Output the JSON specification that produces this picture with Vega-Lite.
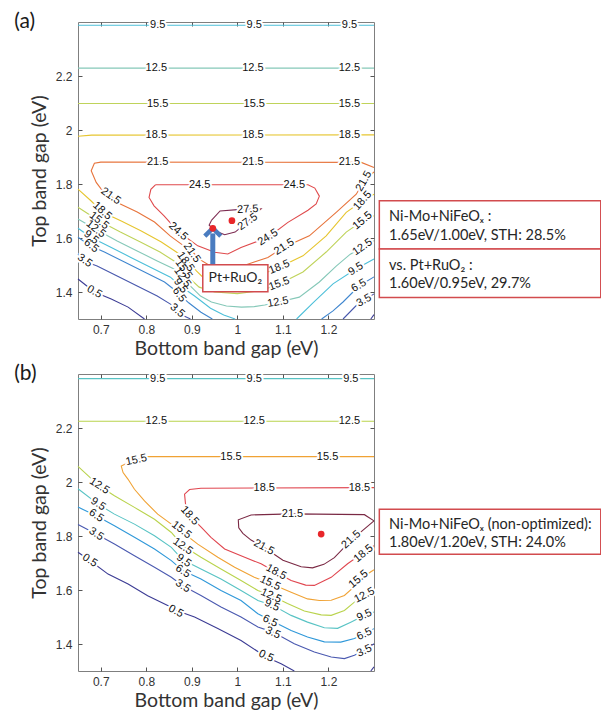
{
"$schema":"https://vega.github.io/schema/vega-lite/v6.json",
"padding":{"left":13,"top":10,"right":0,"bottom":0},
"autosize":{"type":"pad"},
"spacing":4,
"resolve":{"scale":{"x":"independent","y":"independent","color":"independent"}},
"config":{
 "view":{"stroke":"#7f7f7f","strokeWidth":1},
 "axis":{"domain":false,"grid":false,"ticks":true,"tickSize":-4,"tickColor":"#555555","labelFont":"Liberation Sans","labelFontSize":12,"labelColor":"#333333","titleFont":"Lato","titleFontSize":19.5,"titleFontWeight":"normal","titleColor":"#333333"},
 "axisX":{"labelPadding":9,"titlePadding":4},
 "axisY":{"labelPadding":10,"titlePadding":6}
},
"datasets":{
"la":[
{"l":"0.5","s":"0.5A","x":0.65,"y":1.448},{"l":"0.5","s":"0.5A","x":0.686,"y":1.4},{"l":"0.5","s":"0.5A","x":0.723,"y":1.374},{"l":"0.5","s":"0.5A","x":0.76,"y":1.344},{"l":"0.5","s":"0.5A","x":0.796,"y":1.3},
{"l":"0.5","s":"0.5B","x":1.293,"y":1.3},{"l":"0.5","s":"0.5B","x":1.3,"y":1.316},
{"l":"3.5","s":"3.5A","x":0.65,"y":1.54},{"l":"3.5","s":"3.5A","x":0.664,"y":1.514},{"l":"3.5","s":"3.5A","x":0.692,"y":1.496},{"l":"3.5","s":"3.5A","x":0.736,"y":1.459},{"l":"3.5","s":"3.5A","x":0.78,"y":1.422},{"l":"3.5","s":"3.5A","x":0.824,"y":1.385},{"l":"3.5","s":"3.5A","x":0.853,"y":1.355},{"l":"3.5","s":"3.5A","x":0.868,"y":1.33},{"l":"3.5","s":"3.5A","x":0.883,"y":1.311},{"l":"3.5","s":"3.5A","x":0.897,"y":1.3},
{"l":"3.5","s":"3.5B","x":1.232,"y":1.3},{"l":"3.5","s":"3.5B","x":1.26,"y":1.348},{"l":"3.5","s":"3.5B","x":1.278,"y":1.368},{"l":"3.5","s":"3.5B","x":1.3,"y":1.393},
{"l":"6.5","s":"6.5A","x":0.65,"y":1.603},{"l":"6.5","s":"6.5A","x":0.678,"y":1.57},{"l":"6.5","s":"6.5A","x":0.708,"y":1.548},{"l":"6.5","s":"6.5A","x":0.752,"y":1.511},{"l":"6.5","s":"6.5A","x":0.796,"y":1.474},{"l":"6.5","s":"6.5A","x":0.84,"y":1.437},{"l":"6.5","s":"6.5A","x":0.868,"y":1.4},{"l":"6.5","s":"6.5A","x":0.893,"y":1.36},{"l":"6.5","s":"6.5A","x":0.92,"y":1.325},{"l":"6.5","s":"6.5A","x":0.945,"y":1.3},
{"l":"6.5","s":"6.5B","x":1.185,"y":1.3},{"l":"6.5","s":"6.5B","x":1.21,"y":1.33},{"l":"6.5","s":"6.5B","x":1.232,"y":1.363},{"l":"6.5","s":"6.5B","x":1.267,"y":1.422},{"l":"6.5","s":"6.5B","x":1.3,"y":1.456},
{"l":"9.5","s":"9.5T","x":0.65,"y":2.388},{"l":"9.5","s":"9.5T","x":1.3,"y":2.388},
{"l":"9.5","s":"9.5A","x":0.65,"y":1.636},{"l":"9.5","s":"9.5A","x":0.678,"y":1.603},{"l":"9.5","s":"9.5A","x":0.722,"y":1.566},{"l":"9.5","s":"9.5A","x":0.765,"y":1.529},{"l":"9.5","s":"9.5A","x":0.809,"y":1.492},{"l":"9.5","s":"9.5A","x":0.853,"y":1.455},{"l":"9.5","s":"9.5A","x":0.875,"y":1.422},{"l":"9.5","s":"9.5A","x":0.906,"y":1.385},{"l":"9.5","s":"9.5A","x":0.941,"y":1.34},{"l":"9.5","s":"9.5A","x":0.97,"y":1.315},{"l":"9.5","s":"9.5A","x":0.995,"y":1.3},
{"l":"9.5","s":"9.5B","x":1.13,"y":1.3},{"l":"9.5","s":"9.5B","x":1.166,"y":1.36},{"l":"9.5","s":"9.5B","x":1.21,"y":1.43},{"l":"9.5","s":"9.5B","x":1.26,"y":1.485},{"l":"9.5","s":"9.5B","x":1.3,"y":1.522},
{"l":"12.5","s":"12.5T","x":0.65,"y":2.229},{"l":"12.5","s":"12.5T","x":1.3,"y":2.229},
{"l":"12.5","s":"12.5A","x":0.65,"y":1.67},{"l":"12.5","s":"12.5A","x":0.688,"y":1.633},{"l":"12.5","s":"12.5A","x":0.736,"y":1.589},{"l":"12.5","s":"12.5A","x":0.78,"y":1.552},{"l":"12.5","s":"12.5A","x":0.824,"y":1.515},{"l":"12.5","s":"12.5A","x":0.861,"y":1.485},{"l":"12.5","s":"12.5A","x":0.879,"y":1.455},{"l":"12.5","s":"12.5A","x":0.897,"y":1.422},{"l":"12.5","s":"12.5A","x":0.919,"y":1.385},{"l":"12.5","s":"12.5A","x":0.943,"y":1.363},{"l":"12.5","s":"12.5A","x":0.976,"y":1.348},{"l":"12.5","s":"12.5A","x":1.009,"y":1.344},{"l":"12.5","s":"12.5A","x":1.037,"y":1.346},{"l":"12.5","s":"12.5A","x":1.06,"y":1.352},{"l":"12.5","s":"12.5A","x":1.089,"y":1.362},{"l":"12.5","s":"12.5A","x":1.136,"y":1.381},{"l":"12.5","s":"12.5A","x":1.18,"y":1.437},{"l":"12.5","s":"12.5A","x":1.217,"y":1.496},{"l":"12.5","s":"12.5A","x":1.248,"y":1.54},{"l":"12.5","s":"12.5A","x":1.275,"y":1.566},{"l":"12.5","s":"12.5A","x":1.3,"y":1.59},
{"l":"15.5","s":"15.5T","x":0.65,"y":2.098},{"l":"15.5","s":"15.5T","x":1.3,"y":2.098},
{"l":"15.5","s":"15.5A","x":0.65,"y":1.714},{"l":"15.5","s":"15.5A","x":0.672,"y":1.69},{"l":"15.5","s":"15.5A","x":0.696,"y":1.664},{"l":"15.5","s":"15.5A","x":0.743,"y":1.622},{"l":"15.5","s":"15.5A","x":0.787,"y":1.585},{"l":"15.5","s":"15.5A","x":0.83,"y":1.548},{"l":"15.5","s":"15.5A","x":0.861,"y":1.515},{"l":"15.5","s":"15.5A","x":0.879,"y":1.485},{"l":"15.5","s":"15.5A","x":0.897,"y":1.448},{"l":"15.5","s":"15.5A","x":0.916,"y":1.418},{"l":"15.5","s":"15.5A","x":0.95,"y":1.4},{"l":"15.5","s":"15.5A","x":1.0,"y":1.394},{"l":"15.5","s":"15.5A","x":1.05,"y":1.405},{"l":"15.5","s":"15.5A","x":1.075,"y":1.418},{"l":"15.5","s":"15.5A","x":1.092,"y":1.43},{"l":"15.5","s":"15.5A","x":1.144,"y":1.474},{"l":"15.5","s":"15.5A","x":1.195,"y":1.548},{"l":"15.5","s":"15.5A","x":1.239,"y":1.622},{"l":"15.5","s":"15.5A","x":1.275,"y":1.664},{"l":"15.5","s":"15.5A","x":1.3,"y":1.682},
{"l":"18.5","s":"18.5T","x":0.65,"y":1.977},{"l":"18.5","s":"18.5T","x":0.68,"y":1.981},{"l":"18.5","s":"18.5T","x":1.3,"y":1.982},
{"l":"18.5","s":"18.5A","x":0.65,"y":1.781},{"l":"18.5","s":"18.5A","x":0.679,"y":1.737},{"l":"18.5","s":"18.5A","x":0.703,"y":1.696},{"l":"18.5","s":"18.5A","x":0.745,"y":1.663},{"l":"18.5","s":"18.5A","x":0.789,"y":1.626},{"l":"18.5","s":"18.5A","x":0.833,"y":1.585},{"l":"18.5","s":"18.5A","x":0.866,"y":1.548},{"l":"18.5","s":"18.5A","x":0.892,"y":1.515},{"l":"18.5","s":"18.5A","x":0.91,"y":1.478},{"l":"18.5","s":"18.5A","x":0.927,"y":1.45},{"l":"18.5","s":"18.5A","x":0.96,"y":1.436},{"l":"18.5","s":"18.5A","x":1.0,"y":1.436},{"l":"18.5","s":"18.5A","x":1.04,"y":1.45},{"l":"18.5","s":"18.5A","x":1.067,"y":1.474},{"l":"18.5","s":"18.5A","x":1.092,"y":1.492},{"l":"18.5","s":"18.5A","x":1.144,"y":1.534},{"l":"18.5","s":"18.5A","x":1.195,"y":1.608},{"l":"18.5","s":"18.5A","x":1.239,"y":1.695},{"l":"18.5","s":"18.5A","x":1.275,"y":1.738},{"l":"18.5","s":"18.5A","x":1.3,"y":1.762},
{"l":"21.5","s":"21.5A","x":1.3,"y":1.861},{"l":"21.5","s":"21.5A","x":1.272,"y":1.88},{"l":"21.5","s":"21.5A","x":0.7,"y":1.881},{"l":"21.5","s":"21.5A","x":0.686,"y":1.877},{"l":"21.5","s":"21.5A","x":0.679,"y":1.849},{"l":"21.5","s":"21.5A","x":0.69,"y":1.806},{"l":"21.5","s":"21.5A","x":0.701,"y":1.781},{"l":"21.5","s":"21.5A","x":0.72,"y":1.758},{"l":"21.5","s":"21.5A","x":0.743,"y":1.726},{"l":"21.5","s":"21.5A","x":0.78,"y":1.696},{"l":"21.5","s":"21.5A","x":0.818,"y":1.659},{"l":"21.5","s":"21.5A","x":0.853,"y":1.607},{"l":"21.5","s":"21.5A","x":0.883,"y":1.57},{"l":"21.5","s":"21.5A","x":0.902,"y":1.548},{"l":"21.5","s":"21.5A","x":0.918,"y":1.52},{"l":"21.5","s":"21.5A","x":0.94,"y":1.497},{"l":"21.5","s":"21.5A","x":0.97,"y":1.485},{"l":"21.5","s":"21.5A","x":1.0,"y":1.49},{"l":"21.5","s":"21.5A","x":1.037,"y":1.511},{"l":"21.5","s":"21.5A","x":1.067,"y":1.528},{"l":"21.5","s":"21.5A","x":1.103,"y":1.567},{"l":"21.5","s":"21.5A","x":1.158,"y":1.608},{"l":"21.5","s":"21.5A","x":1.217,"y":1.695},{"l":"21.5","s":"21.5A","x":1.261,"y":1.762},{"l":"21.5","s":"21.5A","x":1.278,"y":1.81},{"l":"21.5","s":"21.5A","x":1.3,"y":1.845},
{"l":"24.5","s":"24.5A","x":0.82,"y":1.797},{"l":"24.5","s":"24.5A","x":1.155,"y":1.797},{"l":"24.5","s":"24.5A","x":1.17,"y":1.785},{"l":"24.5","s":"24.5A","x":1.18,"y":1.755},{"l":"24.5","s":"24.5A","x":1.173,"y":1.726},{"l":"24.5","s":"24.5A","x":1.155,"y":1.703},{"l":"24.5","s":"24.5A","x":1.111,"y":1.658},{"l":"24.5","s":"24.5A","x":1.067,"y":1.602},{"l":"24.5","s":"24.5A","x":1.008,"y":1.565},{"l":"24.5","s":"24.5A","x":0.979,"y":1.541},{"l":"24.5","s":"24.5A","x":0.95,"y":1.547},{"l":"24.5","s":"24.5A","x":0.913,"y":1.571},{"l":"24.5","s":"24.5A","x":0.87,"y":1.624},{"l":"24.5","s":"24.5A","x":0.839,"y":1.682},{"l":"24.5","s":"24.5A","x":0.817,"y":1.719},{"l":"24.5","s":"24.5A","x":0.806,"y":1.75},{"l":"24.5","s":"24.5A","x":0.81,"y":1.78},{"l":"24.5","s":"24.5A","x":0.82,"y":1.797},
{"l":"27.5","s":"27.5A","x":0.943,"y":1.665},{"l":"27.5","s":"27.5A","x":0.962,"y":1.7},{"l":"27.5","s":"27.5A","x":1.0,"y":1.705},{"l":"27.5","s":"27.5A","x":1.052,"y":1.708},{"l":"27.5","s":"27.5A","x":1.04,"y":1.69},{"l":"27.5","s":"27.5A","x":1.023,"y":1.66},{"l":"27.5","s":"27.5A","x":0.995,"y":1.622},{"l":"27.5","s":"27.5A","x":0.972,"y":1.612},{"l":"27.5","s":"27.5A","x":0.95,"y":1.628},{"l":"27.5","s":"27.5A","x":0.938,"y":1.648},{"l":"27.5","s":"27.5A","x":0.943,"y":1.665}
],
"lba":[
{"l":"9.5","x":0.825,"y":2.388,"a":0},{"l":"9.5","x":1.037,"y":2.388,"a":0},{"l":"9.5","x":1.246,"y":2.388,"a":0},
{"l":"12.5","x":0.822,"y":2.229,"a":0},{"l":"12.5","x":1.034,"y":2.229,"a":0},{"l":"12.5","x":1.246,"y":2.229,"a":0},
{"l":"15.5","x":0.825,"y":2.098,"a":0},{"l":"15.5","x":1.037,"y":2.098,"a":0},{"l":"15.5","x":1.246,"y":2.098,"a":0},
{"l":"18.5","x":0.822,"y":1.981,"a":0},{"l":"18.5","x":1.034,"y":1.981,"a":0},{"l":"18.5","x":1.246,"y":1.982,"a":0},
{"l":"21.5","x":0.825,"y":1.881,"a":0},{"l":"21.5","x":1.034,"y":1.881,"a":0},{"l":"21.5","x":1.246,"y":1.88,"a":0},
{"l":"24.5","x":0.917,"y":1.797,"a":0},{"l":"24.5","x":1.125,"y":1.797,"a":0},
{"l":"27.5","x":1.023,"y":1.706,"a":-3},{"l":"27.5","x":1.023,"y":1.66,"a":-35},
{"l":"21.5","x":0.722,"y":1.755,"a":35},{"l":"18.5","x":0.703,"y":1.7,"a":42},{"l":"15.5","x":0.696,"y":1.664,"a":38},{"l":"12.5","x":0.689,"y":1.633,"a":38},{"l":"9.5","x":0.679,"y":1.602,"a":38},{"l":"6.5","x":0.679,"y":1.571,"a":38},{"l":"3.5","x":0.665,"y":1.516,"a":35},{"l":"0.5","x":0.686,"y":1.4,"a":30},
{"l":"24.5","x":0.87,"y":1.624,"a":42},{"l":"24.5","x":1.067,"y":1.602,"a":-32},
{"l":"21.5","x":0.9,"y":1.545,"a":55},{"l":"18.5","x":0.886,"y":1.512,"a":55},{"l":"15.5","x":0.882,"y":1.484,"a":55},{"l":"12.5","x":0.879,"y":1.454,"a":55},{"l":"9.5","x":0.875,"y":1.423,"a":55},{"l":"6.5","x":0.872,"y":1.39,"a":55},{"l":"3.5","x":0.868,"y":1.331,"a":40},
{"l":"21.5","x":1.103,"y":1.567,"a":-32},{"l":"21.5","x":1.278,"y":1.81,"a":-60},{"l":"18.5","x":1.092,"y":1.492,"a":-22},{"l":"18.5","x":1.275,"y":1.738,"a":-48},{"l":"15.5","x":1.092,"y":1.43,"a":-20},{"l":"15.5","x":1.275,"y":1.664,"a":-40},{"l":"12.5","x":1.089,"y":1.362,"a":-10},{"l":"12.5","x":1.275,"y":1.566,"a":-35},{"l":"9.5","x":1.26,"y":1.485,"a":-32},{"l":"6.5","x":1.267,"y":1.423,"a":-30},{"l":"3.5","x":1.278,"y":1.368,"a":-28}
],
"lb":[
{"l":"9.5","s":"9.5T","x":0.65,"y":2.383},{"l":"9.5","s":"9.5T","x":1.3,"y":2.383},
{"l":"12.5","s":"12.5T","x":0.65,"y":2.225},{"l":"12.5","s":"12.5T","x":1.3,"y":2.225},
{"l":"15.5","s":"15.5A","x":1.3,"y":2.094},{"l":"15.5","s":"15.5A","x":0.8,"y":2.094},{"l":"15.5","s":"15.5A","x":0.778,"y":2.082},{"l":"15.5","s":"15.5A","x":0.755,"y":2.068},{"l":"15.5","s":"15.5A","x":0.745,"y":2.059},{"l":"15.5","s":"15.5A","x":0.749,"y":2.035},{"l":"15.5","s":"15.5A","x":0.76,"y":2.01},{"l":"15.5","s":"15.5A","x":0.774,"y":1.973},{"l":"15.5","s":"15.5A","x":0.796,"y":1.93},{"l":"15.5","s":"15.5A","x":0.825,"y":1.881},{"l":"15.5","s":"15.5A","x":0.855,"y":1.844},{"l":"15.5","s":"15.5A","x":0.88,"y":1.813},{"l":"15.5","s":"15.5A","x":0.913,"y":1.77},{"l":"15.5","s":"15.5A","x":0.957,"y":1.721},{"l":"15.5","s":"15.5A","x":0.994,"y":1.684},{"l":"15.5","s":"15.5A","x":1.037,"y":1.647},{"l":"15.5","s":"15.5A","x":1.074,"y":1.623},{"l":"15.5","s":"15.5A","x":1.118,"y":1.592},{"l":"15.5","s":"15.5A","x":1.154,"y":1.567},{"l":"15.5","s":"15.5A","x":1.18,"y":1.561},{"l":"15.5","s":"15.5A","x":1.206,"y":1.562},{"l":"15.5","s":"15.5A","x":1.235,"y":1.58},{"l":"15.5","s":"15.5A","x":1.255,"y":1.61},{"l":"15.5","s":"15.5A","x":1.268,"y":1.64},{"l":"15.5","s":"15.5A","x":1.3,"y":1.675},
{"l":"18.5","s":"18.5A","x":1.3,"y":1.979},{"l":"18.5","s":"18.5A","x":0.92,"y":1.977},{"l":"18.5","s":"18.5A","x":0.895,"y":1.972},{"l":"18.5","s":"18.5A","x":0.884,"y":1.955},{"l":"18.5","s":"18.5A","x":0.886,"y":1.92},{"l":"18.5","s":"18.5A","x":0.895,"y":1.875},{"l":"18.5","s":"18.5A","x":0.921,"y":1.832},{"l":"18.5","s":"18.5A","x":0.942,"y":1.795},{"l":"18.5","s":"18.5A","x":0.972,"y":1.752},{"l":"18.5","s":"18.5A","x":1.016,"y":1.721},{"l":"18.5","s":"18.5A","x":1.052,"y":1.697},{"l":"18.5","s":"18.5A","x":1.085,"y":1.666},{"l":"18.5","s":"18.5A","x":1.118,"y":1.635},{"l":"18.5","s":"18.5A","x":1.15,"y":1.618},{"l":"18.5","s":"18.5A","x":1.169,"y":1.617},{"l":"18.5","s":"18.5A","x":1.206,"y":1.647},{"l":"18.5","s":"18.5A","x":1.242,"y":1.697},{"l":"18.5","s":"18.5A","x":1.272,"y":1.733},{"l":"18.5","s":"18.5A","x":1.3,"y":1.764},
{"l":"21.5","s":"21.5A","x":1.3,"y":1.856},{"l":"21.5","s":"21.5A","x":1.279,"y":1.879},{"l":"21.5","s":"21.5A","x":1.12,"y":1.882},{"l":"21.5","s":"21.5A","x":1.03,"y":1.878},{"l":"21.5","s":"21.5A","x":1.002,"y":1.86},{"l":"21.5","s":"21.5A","x":1.003,"y":1.83},{"l":"21.5","s":"21.5A","x":1.012,"y":1.81},{"l":"21.5","s":"21.5A","x":1.03,"y":1.785},{"l":"21.5","s":"21.5A","x":1.058,"y":1.758},{"l":"21.5","s":"21.5A","x":1.1,"y":1.71},{"l":"21.5","s":"21.5A","x":1.14,"y":1.686},{"l":"21.5","s":"21.5A","x":1.165,"y":1.682},{"l":"21.5","s":"21.5A","x":1.19,"y":1.695},{"l":"21.5","s":"21.5A","x":1.213,"y":1.72},{"l":"21.5","s":"21.5A","x":1.25,"y":1.785},{"l":"21.5","s":"21.5A","x":1.3,"y":1.856},
{"l":"12.5","s":"12.5A","x":0.65,"y":2.058},{"l":"12.5","s":"12.5A","x":0.697,"y":1.985},{"l":"12.5","s":"12.5A","x":0.73,"y":1.949},{"l":"12.5","s":"12.5A","x":0.774,"y":1.906},{"l":"12.5","s":"12.5A","x":0.818,"y":1.862},{"l":"12.5","s":"12.5A","x":0.855,"y":1.813},{"l":"12.5","s":"12.5A","x":0.88,"y":1.764},{"l":"12.5","s":"12.5A","x":0.92,"y":1.721},{"l":"12.5","s":"12.5A","x":0.964,"y":1.678},{"l":"12.5","s":"12.5A","x":1.008,"y":1.635},{"l":"12.5","s":"12.5A","x":1.045,"y":1.598},{"l":"12.5","s":"12.5A","x":1.074,"y":1.58},{"l":"12.5","s":"12.5A","x":1.11,"y":1.55},{"l":"12.5","s":"12.5A","x":1.147,"y":1.522},{"l":"12.5","s":"12.5A","x":1.184,"y":1.508},{"l":"12.5","s":"12.5A","x":1.206,"y":1.506},{"l":"12.5","s":"12.5A","x":1.235,"y":1.524},{"l":"12.5","s":"12.5A","x":1.257,"y":1.555},{"l":"12.5","s":"12.5A","x":1.279,"y":1.58},{"l":"12.5","s":"12.5A","x":1.3,"y":1.598},
{"l":"9.5","s":"9.5A","x":0.65,"y":1.975},{"l":"9.5","s":"9.5A","x":0.694,"y":1.918},{"l":"9.5","s":"9.5A","x":0.73,"y":1.881},{"l":"9.5","s":"9.5A","x":0.774,"y":1.844},{"l":"9.5","s":"9.5A","x":0.818,"y":1.801},{"l":"9.5","s":"9.5A","x":0.855,"y":1.758},{"l":"9.5","s":"9.5A","x":0.88,"y":1.712},{"l":"9.5","s":"9.5A","x":0.92,"y":1.678},{"l":"9.5","s":"9.5A","x":0.964,"y":1.641},{"l":"9.5","s":"9.5A","x":1.008,"y":1.598},{"l":"9.5","s":"9.5A","x":1.045,"y":1.561},{"l":"9.5","s":"9.5A","x":1.078,"y":1.543},{"l":"9.5","s":"9.5A","x":1.118,"y":1.506},{"l":"9.5","s":"9.5A","x":1.154,"y":1.481},{"l":"9.5","s":"9.5A","x":1.191,"y":1.46},{"l":"9.5","s":"9.5A","x":1.22,"y":1.458},{"l":"9.5","s":"9.5A","x":1.249,"y":1.481},{"l":"9.5","s":"9.5A","x":1.279,"y":1.506},{"l":"9.5","s":"9.5A","x":1.3,"y":1.518},
{"l":"6.5","s":"6.5A","x":0.65,"y":1.907},{"l":"6.5","s":"6.5A","x":0.69,"y":1.875},{"l":"6.5","s":"6.5A","x":0.73,"y":1.838},{"l":"6.5","s":"6.5A","x":0.774,"y":1.795},{"l":"6.5","s":"6.5A","x":0.818,"y":1.752},{"l":"6.5","s":"6.5A","x":0.855,"y":1.709},{"l":"6.5","s":"6.5A","x":0.88,"y":1.672},{"l":"6.5","s":"6.5A","x":0.92,"y":1.641},{"l":"6.5","s":"6.5A","x":0.964,"y":1.598},{"l":"6.5","s":"6.5A","x":1.008,"y":1.561},{"l":"6.5","s":"6.5A","x":1.045,"y":1.512},{"l":"6.5","s":"6.5A","x":1.074,"y":1.487},{"l":"6.5","s":"6.5A","x":1.118,"y":1.45},{"l":"6.5","s":"6.5A","x":1.154,"y":1.426},{"l":"6.5","s":"6.5A","x":1.191,"y":1.408},{"l":"6.5","s":"6.5A","x":1.227,"y":1.407},{"l":"6.5","s":"6.5A","x":1.257,"y":1.42},{"l":"6.5","s":"6.5A","x":1.279,"y":1.438},{"l":"6.5","s":"6.5A","x":1.3,"y":1.457},
{"l":"3.5","s":"3.5A","x":0.65,"y":1.843},{"l":"3.5","s":"3.5A","x":0.69,"y":1.807},{"l":"3.5","s":"3.5A","x":0.73,"y":1.77},{"l":"3.5","s":"3.5A","x":0.774,"y":1.727},{"l":"3.5","s":"3.5A","x":0.818,"y":1.684},{"l":"3.5","s":"3.5A","x":0.855,"y":1.647},{"l":"3.5","s":"3.5A","x":0.88,"y":1.616},{"l":"3.5","s":"3.5A","x":0.92,"y":1.58},{"l":"3.5","s":"3.5A","x":0.964,"y":1.537},{"l":"3.5","s":"3.5A","x":1.008,"y":1.5},{"l":"3.5","s":"3.5A","x":1.045,"y":1.463},{"l":"3.5","s":"3.5A","x":1.078,"y":1.444},{"l":"3.5","s":"3.5A","x":1.125,"y":1.401},{"l":"3.5","s":"3.5A","x":1.169,"y":1.37},{"l":"3.5","s":"3.5A","x":1.206,"y":1.352},{"l":"3.5","s":"3.5A","x":1.235,"y":1.346},{"l":"3.5","s":"3.5A","x":1.257,"y":1.358},{"l":"3.5","s":"3.5A","x":1.279,"y":1.377},{"l":"3.5","s":"3.5A","x":1.3,"y":1.401},
{"l":"0.5","s":"0.5A","x":0.65,"y":1.74},{"l":"0.5","s":"0.5A","x":0.676,"y":1.709},{"l":"0.5","s":"0.5A","x":0.716,"y":1.659},{"l":"0.5","s":"0.5A","x":0.76,"y":1.622},{"l":"0.5","s":"0.5A","x":0.803,"y":1.579},{"l":"0.5","s":"0.5A","x":0.847,"y":1.543},{"l":"0.5","s":"0.5A","x":0.866,"y":1.524},{"l":"0.5","s":"0.5A","x":0.906,"y":1.5},{"l":"0.5","s":"0.5A","x":0.957,"y":1.457},{"l":"0.5","s":"0.5A","x":1.008,"y":1.413},{"l":"0.5","s":"0.5A","x":1.063,"y":1.352},{"l":"0.5","s":"0.5A","x":1.096,"y":1.327},{"l":"0.5","s":"0.5A","x":1.125,"y":1.3},
{"l":"0.5","s":"0.5B","x":1.293,"y":1.3},{"l":"0.5","s":"0.5B","x":1.3,"y":1.315}
],
"lbb":[
{"l":"9.5","x":0.825,"y":2.383,"a":0},{"l":"9.5","x":1.037,"y":2.383,"a":0},{"l":"9.5","x":1.249,"y":2.383,"a":0},
{"l":"12.5","x":0.822,"y":2.225,"a":0},{"l":"12.5","x":1.037,"y":2.225,"a":0},{"l":"12.5","x":1.246,"y":2.225,"a":0},
{"l":"15.5","x":0.778,"y":2.081,"a":-12},{"l":"15.5","x":0.986,"y":2.094,"a":0},{"l":"15.5","x":1.198,"y":2.094,"a":0},{"l":"15.5","x":0.877,"y":1.822,"a":38},{"l":"15.5","x":1.072,"y":1.625,"a":25},{"l":"15.5","x":1.266,"y":1.64,"a":-40},
{"l":"18.5","x":1.059,"y":1.979,"a":0},{"l":"18.5","x":1.268,"y":1.979,"a":0},{"l":"18.5","x":0.895,"y":1.875,"a":48},{"l":"18.5","x":1.085,"y":1.666,"a":28},{"l":"18.5","x":1.277,"y":1.735,"a":-40},
{"l":"21.5","x":1.121,"y":1.881,"a":0},{"l":"21.5","x":1.058,"y":1.758,"a":28},{"l":"21.5","x":1.25,"y":1.787,"a":-42},
{"l":"12.5","x":0.697,"y":1.985,"a":33},{"l":"12.5","x":0.88,"y":1.761,"a":35},{"l":"12.5","x":1.074,"y":1.578,"a":25},{"l":"12.5","x":1.279,"y":1.58,"a":-28},
{"l":"9.5","x":0.694,"y":1.918,"a":33},{"l":"9.5","x":0.882,"y":1.709,"a":35},{"l":"9.5","x":1.076,"y":1.543,"a":25},{"l":"9.5","x":1.279,"y":1.506,"a":-25},
{"l":"6.5","x":0.69,"y":1.875,"a":33},{"l":"6.5","x":0.88,"y":1.669,"a":33},{"l":"6.5","x":1.072,"y":1.485,"a":25},{"l":"6.5","x":1.279,"y":1.436,"a":-25},
{"l":"3.5","x":0.69,"y":1.807,"a":33},{"l":"3.5","x":0.88,"y":1.614,"a":33},{"l":"3.5","x":1.078,"y":1.441,"a":25},{"l":"3.5","x":1.279,"y":1.374,"a":-25},
{"l":"0.5","x":0.676,"y":1.709,"a":32},{"l":"0.5","x":0.865,"y":1.521,"a":28},{"l":"0.5","x":1.063,"y":1.355,"a":25}
]
},
"vconcat":[
{
"width":296,"height":297,
"layer":[
{"data":{"name":"la"},"mark":{"type":"line","strokeWidth":1.1},
 "encoding":{
  "x":{"field":"x","type":"quantitative","scale":{"domain":[0.65,1.3],"nice":false,"zero":false},"axis":{"orient":"bottom","values":[0.7,0.8,0.9,1,1.1,1.2],"format":"~g","title":"Bottom band gap (eV)"}},
  "y":{"field":"y","type":"quantitative","scale":{"domain":[1.3,2.4],"nice":false,"zero":false},"axis":{"orient":"left","values":[1.4,1.6,1.8,2,2.2],"format":"~g","title":"Top band gap (eV)"}},
  "color":{"field":"l","type":"nominal","legend":null,"scale":{"domain":["0.5","3.5","6.5","9.5","12.5","15.5","18.5","21.5","24.5","27.5"],"range":["#3b3b94","#4858ad","#3f86cf","#4cbfd9","#85c8b8","#bfd35a","#e6c52f","#e7743c","#df4a4c","#7d2c52"]}},
  "detail":{"field":"s"},
  "order":{"value":null}}},
{"data":{"name":"lba"},"mark":{"type":"text","font":"Liberation Sans","fontSize":11,"fill":"white","stroke":"white","strokeWidth":4,"strokeJoin":"round"},
 "encoding":{"x":{"field":"x","type":"quantitative","axis":null},"y":{"field":"y","type":"quantitative","axis":null},"text":{"field":"l"},"angle":{"field":"a","type":"quantitative","scale":null}}},
{"data":{"name":"lba"},"mark":{"type":"text","font":"Liberation Sans","fontSize":11,"fill":"#111111"},
 "encoding":{"x":{"field":"x","type":"quantitative","axis":null},"y":{"field":"y","type":"quantitative","axis":null},"text":{"field":"l"},"angle":{"field":"a","type":"quantitative","scale":null}}},
{"data":{"values":[{"x":1.3117,"x2":1.798,"y":1.559,"y2":1.7377},{"x":1.3117,"x2":1.798,"y":1.38,"y2":1.559},{"x":0.924,"x2":1.067,"y":1.401,"y2":1.501}]},
 "mark":{"type":"rect","fill":"white","stroke":"#d24b4e","strokeWidth":1.5,"clip":false},
 "encoding":{"x":{"field":"x","type":"quantitative","axis":null},"x2":{"field":"x2"},"y":{"field":"y","type":"quantitative","axis":null},"y2":{"field":"y2"}}},
{"data":{"values":[{"t":"Ni-Mo+NiFeOₓ :","x":1.333,"y":1.677},{"t":"1.65eV/1.00eV, STH: 28.5%","x":1.333,"y":1.608},{"t":"vs. Pt+RuO₂ :","x":1.333,"y":1.497},{"t":"1.60eV/0.95eV, 29.7%","x":1.333,"y":1.43}]},
 "mark":{"type":"text","align":"left","baseline":"middle","font":"Lato","fontSize":14.5,"fill":"#262626","clip":false},
 "encoding":{"x":{"field":"x","type":"quantitative","axis":null},"y":{"field":"y","type":"quantitative","axis":null},"text":{"field":"t"}}},
{"data":{"values":[{"t":"Pt+RuO₂","x":0.9955,"y":1.451}]},
 "mark":{"type":"text","align":"center","baseline":"middle","font":"Lato","fontSize":14,"fill":"#262626"},
 "encoding":{"x":{"field":"x","type":"quantitative","axis":null},"y":{"field":"y","type":"quantitative","axis":null},"text":{"field":"t"}}},
{"data":{"values":[{"t":"(a)","x":0.51,"y":2.4}]},
 "mark":{"type":"text","align":"left","baseline":"middle","font":"Lato","fontSize":21,"fill":"#1a1a1a","clip":false},
 "encoding":{"x":{"field":"x","type":"quantitative","axis":null},"y":{"field":"y","type":"quantitative","axis":null},"text":{"field":"t"}}},
{"data":{"values":[{"x":0.946,"y":1.503,"y2":1.617}]},
 "mark":{"type":"rule","stroke":"#4a7cc0","strokeWidth":5},
 "encoding":{"x":{"field":"x","type":"quantitative","axis":null},"y":{"field":"y","type":"quantitative","axis":null},"y2":{"field":"y2"}}},
{"data":{"values":[{"x":0.946,"y":1.617}]},
 "mark":{"type":"point","shape":"M-1,0.35L0,-0.65L1,0.35","filled":false,"stroke":"#4a7cc0","strokeWidth":4.5,"size":256,"opacity":1},
 "encoding":{"x":{"field":"x","type":"quantitative","axis":null},"y":{"field":"y","type":"quantitative","axis":null}}},
{"data":{"values":[{"x":0.946,"y":1.636},{"x":0.988,"y":1.664}]},
 "mark":{"type":"circle","fill":"#e8262a","size":45,"opacity":1},
 "encoding":{"x":{"field":"x","type":"quantitative","axis":{"orient":"top","values":[0.7,0.8,0.9,1,1.1,1.2],"labels":false,"title":null}},"y":{"field":"y","type":"quantitative","axis":{"orient":"right","values":[1.4,1.6,1.8,2,2.2],"labels":false,"title":null}}}}
]
},
{
"width":296,"height":297,
"layer":[
{"data":{"name":"lb"},"mark":{"type":"line","strokeWidth":1.1},
 "encoding":{
  "x":{"field":"x","type":"quantitative","scale":{"domain":[0.65,1.3],"nice":false,"zero":false},"axis":{"orient":"bottom","values":[0.7,0.8,0.9,1,1.1,1.2],"format":"~g","title":"Bottom band gap (eV)"}},
  "y":{"field":"y","type":"quantitative","scale":{"domain":[1.3,2.4],"nice":false,"zero":false},"axis":{"orient":"left","values":[1.4,1.6,1.8,2,2.2],"format":"~g","title":"Top band gap (eV)"}},
  "color":{"field":"l","type":"nominal","legend":null,"scale":{"domain":["0.5","3.5","6.5","9.5","12.5","15.5","18.5","21.5"],"range":["#3b3b94","#4a59b0","#2f98d9","#58c3c4","#b9d34c","#f0a234","#e0464f","#7a2944"]}},
  "detail":{"field":"s"},
  "order":{"value":null}}},
{"data":{"name":"lbb"},"mark":{"type":"text","font":"Liberation Sans","fontSize":11,"fill":"white","stroke":"white","strokeWidth":4,"strokeJoin":"round"},
 "encoding":{"x":{"field":"x","type":"quantitative","axis":null},"y":{"field":"y","type":"quantitative","axis":null},"text":{"field":"l"},"angle":{"field":"a","type":"quantitative","scale":null}}},
{"data":{"name":"lbb"},"mark":{"type":"text","font":"Liberation Sans","fontSize":11,"fill":"#111111"},
 "encoding":{"x":{"field":"x","type":"quantitative","axis":null},"y":{"field":"y","type":"quantitative","axis":null},"text":{"field":"l"},"angle":{"field":"a","type":"quantitative","scale":null}}},
{"data":{"values":[{"x":1.3117,"x2":1.798,"y":1.732,"y2":1.899}]},
 "mark":{"type":"rect","fill":"white","stroke":"#d24b4e","strokeWidth":1.5,"clip":false},
 "encoding":{"x":{"field":"x","type":"quantitative","axis":null},"x2":{"field":"x2"},"y":{"field":"y","type":"quantitative","axis":null},"y2":{"field":"y2"}}},
{"data":{"values":[{"t":"Ni-Mo+NiFeOₓ (non-optimized):","x":1.333,"y":1.839},{"t":"1.80eV/1.20eV, STH: 24.0%","x":1.333,"y":1.773}]},
 "mark":{"type":"text","align":"left","baseline":"middle","font":"Lato","fontSize":14.5,"fill":"#262626","clip":false},
 "encoding":{"x":{"field":"x","type":"quantitative","axis":null},"y":{"field":"y","type":"quantitative","axis":null},"text":{"field":"t"}}},
{"data":{"values":[{"t":"(b)","x":0.51,"y":2.4}]},
 "mark":{"type":"text","align":"left","baseline":"middle","font":"Lato","fontSize":21,"fill":"#1a1a1a","clip":false},
 "encoding":{"x":{"field":"x","type":"quantitative","axis":null},"y":{"field":"y","type":"quantitative","axis":null},"text":{"field":"t"}}},
{"data":{"values":[{"x":1.184,"y":1.807}]},
 "mark":{"type":"circle","fill":"#e8262a","size":45,"opacity":1},
 "encoding":{"x":{"field":"x","type":"quantitative","axis":{"orient":"top","values":[0.7,0.8,0.9,1,1.1,1.2],"labels":false,"title":null}},"y":{"field":"y","type":"quantitative","axis":{"orient":"right","values":[1.4,1.6,1.8,2,2.2],"labels":false,"title":null}}}}
]
}
]
}
